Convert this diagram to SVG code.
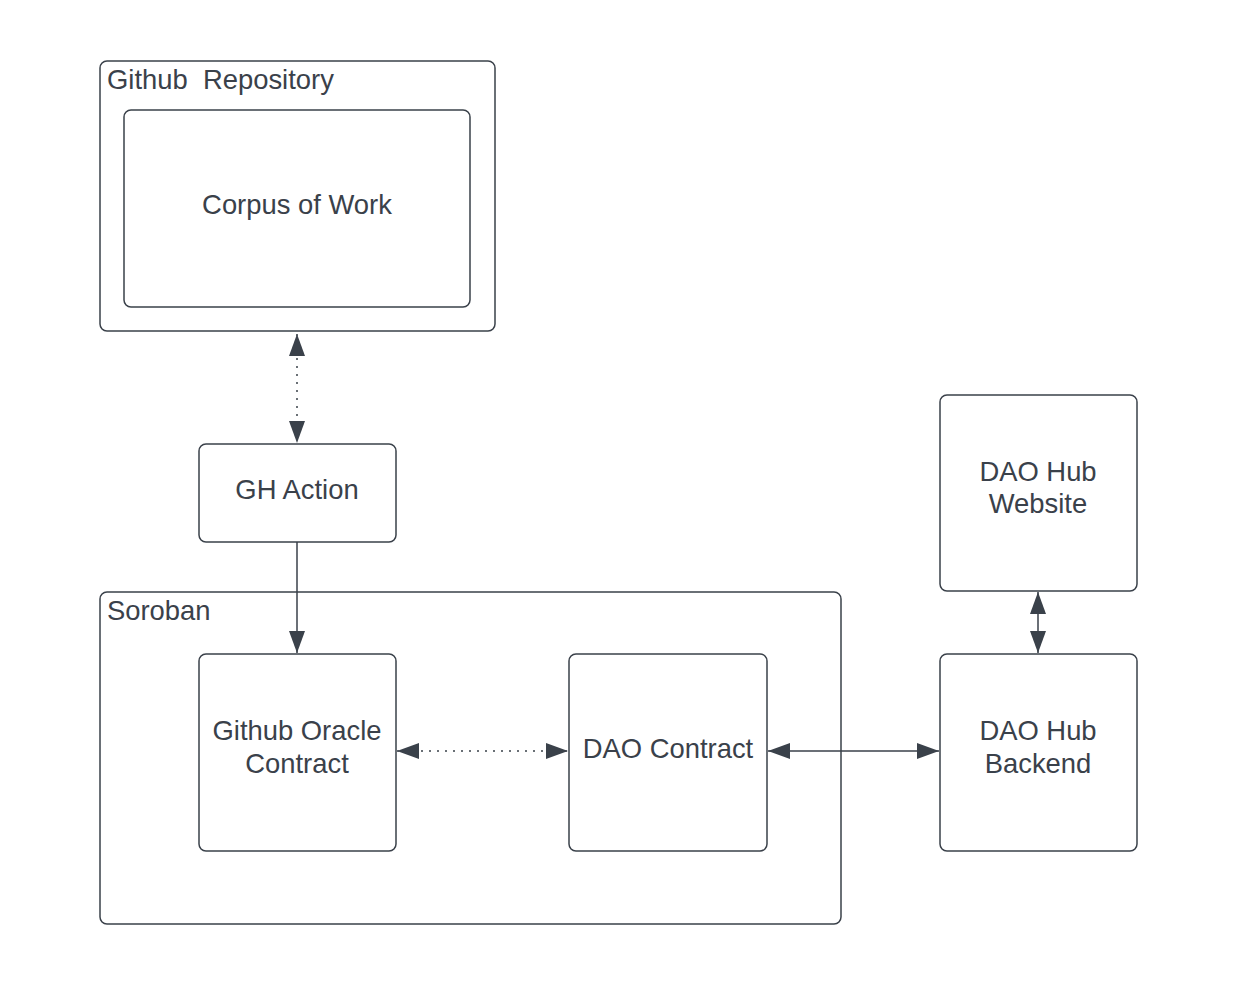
<svg xmlns="http://www.w3.org/2000/svg" width="1256" height="1000" viewBox="0 0 1256 1000">
<style>
.box{fill:#ffffff;stroke:#3a414a;stroke-width:1.5}
.t{font-family:"Liberation Sans",Arial,sans-serif;font-size:27.4px;fill:#3a414a;white-space:pre}
.c{text-anchor:middle}
.ln{fill:none;stroke:#3a414a;stroke-width:1.5}
.dot{stroke-dasharray:2 6}
</style>
<defs>
<marker id="ah" viewBox="0 0 22 16" refX="22" refY="8" markerWidth="22" markerHeight="16" markerUnits="userSpaceOnUse" orient="auto-start-reverse">
<path d="M0,0 L22,8 L0,16 Z" fill="#3a414a"/>
</marker>
</defs>
<rect width="1256" height="1000" fill="#ffffff"/>
<g id="github-repository">
<rect class="box" x="100" y="61" width="395" height="270" rx="7"/>
<text class="t" x="107" y="89" xml:space="preserve">Github  Repository</text>
</g>
<g id="corpus-of-work">
<rect class="box" x="124" y="110" width="346" height="197" rx="7"/>
<text class="t c" x="297" y="214">Corpus of Work</text>
</g>
<g id="gh-action">
<rect class="box" x="199" y="444" width="197" height="98" rx="7"/>
<text class="t c" x="297" y="499">GH Action</text>
</g>
<g id="soroban">
<rect class="box" x="100" y="592" width="741" height="332" rx="7"/>
<text class="t" x="107" y="620">Soroban</text>
</g>
<g id="github-oracle-contract">
<rect class="box" x="199" y="654" width="197" height="197" rx="7"/>
<text class="t c" x="297" y="740">Github Oracle</text>
<text class="t c" x="297" y="773">Contract</text>
</g>
<g id="dao-contract">
<rect class="box" x="569" y="654" width="198" height="197" rx="7"/>
<text class="t c" x="668" y="758">DAO Contract</text>
</g>
<g id="dao-hub-website">
<rect class="box" x="940" y="395" width="197" height="196" rx="7"/>
<text class="t c" x="1038" y="481">DAO Hub</text>
<text class="t c" x="1038" y="513">Website</text>
</g>
<g id="dao-hub-backend">
<rect class="box" x="940" y="654" width="197" height="197" rx="7"/>
<text class="t c" x="1038" y="740">DAO Hub</text>
<text class="t c" x="1038" y="773">Backend</text>
</g>
<g id="connectors">
<line class="ln dot" x1="297" y1="334" x2="297" y2="443" marker-start="url(#ah)" marker-end="url(#ah)"/>
<line class="ln" x1="297" y1="542" x2="297" y2="653" marker-end="url(#ah)"/>
<line class="ln dot" x1="397" y1="751" x2="568" y2="751" marker-start="url(#ah)" marker-end="url(#ah)"/>
<line class="ln" x1="768" y1="751" x2="939" y2="751" marker-start="url(#ah)" marker-end="url(#ah)"/>
<line class="ln" x1="1038" y1="592" x2="1038" y2="653" marker-start="url(#ah)" marker-end="url(#ah)"/>
</g>
</svg>
